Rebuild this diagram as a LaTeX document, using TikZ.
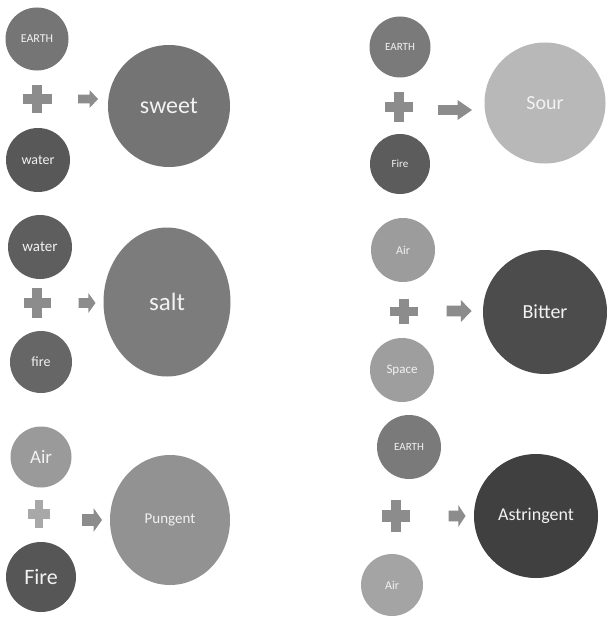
\documentclass[tikz,border=0pt]{standalone}
\usepackage{fontspec}
\setmainfont{Carlito}
\definecolor{txt}{HTML}{F2F2F2}
\definecolor{sym}{HTML}{8C8C8C}
\definecolor{symlight}{HTML}{A8A8A8}
\tikzset{
  ball/.style={circle, inner sep=0pt, text=txt},
  oval/.style={ellipse, inner sep=0pt, text=txt},
  fs/.style={font=\fontsize{#1}{#1}\selectfont},
  plussign/.pic={
    \fill (-1,-0.36) rectangle (1,0.36);
    \fill (-0.36,-1) rectangle (0.36,1);
  },
  blockarrow/.pic={
    \fill (-1,-0.48) -- (0.15,-0.48) -- (0.15,-1) -- (1,0) -- (0.15,1) -- (0.15,0.48) -- (-1,0.48) -- cycle;
  }
}
\usetikzlibrary{shapes.geometric}
\begin{document}
\begin{tikzpicture}[x=1pt,y=-1pt]
\fill[white] (0,0) rectangle (606,618);
\useasboundingbox (0,0) rectangle (606,618);

% ---------- top left ----------
\node[ball, fill={rgb,255:red,117;green,117;blue,117}, minimum size=63pt, fs=12] (earthA) at (37,39) {EARTH};
\pic[fill=sym, xscale=14.5, yscale=14] at (37,99) {plussign};
\pic[fill=sym, xscale=10, yscale=9] at (88,99) {blockarrow};
\node[ball, fill={rgb,255:red,88;green,88;blue,88}, minimum size=64pt, fs=14] (waterA) at (38,160) {water};
\node[ball, fill={rgb,255:red,116;green,116;blue,116}, minimum size=122pt, fs=24] (sweet) at (169,106) {sweet};

% ---------- top right ----------
\node[ball, fill={rgb,255:red,122;green,122;blue,122}, minimum size=61pt, fs=11] (earthB) at (400,47) {EARTH};
\pic[fill=sym, xscale=14, yscale=15] at (399,107) {plussign};
\pic[fill=sym, xscale=17, yscale=10] at (455,110) {blockarrow};
\node[ball, fill={rgb,255:red,92;green,92;blue,92}, minimum size=60pt, fs=11] (fireB) at (400,164) {Fire};
\node[ball, fill={rgb,255:red,184;green,184;blue,184}, minimum size=121pt, fs=20] (sour) at (545,103) {Sour};

% ---------- middle left ----------
\node[ball, fill={rgb,255:red,94;green,94;blue,94}, minimum size=64pt, fs=15] (waterC) at (40,247) {water};
\pic[fill=sym, xscale=13.5, yscale=15] at (37,303) {plussign};
\pic[fill=sym, xscale=8.5, yscale=10] at (87,303) {blockarrow};
\node[ball, fill={rgb,255:red,102;green,102;blue,102}, minimum size=62pt, fs=14] (fireC) at (41,362) {fire};
\node[oval, fill={rgb,255:red,124;green,124;blue,124}, minimum width=127pt, minimum height=149pt, fs=25] (salt) at (167,302) {salt};

% ---------- middle right ----------
\node[ball, fill={rgb,255:red,156;green,156;blue,156}, minimum size=64pt, fs=12] (airD) at (403,250) {Air};
\pic[fill=sym, xscale=14, yscale=12.5] at (404,311) {plussign};
\pic[fill=sym, xscale=12.5, yscale=11] at (459,311) {blockarrow};
\node[ball, fill={rgb,255:red,158;green,158;blue,158}, minimum size=64pt, fs=13] (spaceD) at (402,370) {Space};
\node[ball, fill={rgb,255:red,76;green,76;blue,76}, minimum size=124pt, fs=20] (bitter) at (545,312) {Bitter};

% ---------- bottom left ----------
\node[ball, fill={rgb,255:red,154;green,154;blue,154}, minimum size=61pt, fs=19] (airE) at (41,457) {Air};
\pic[fill=symlight, xscale=11, yscale=14] at (39,514) {plussign};
\pic[fill=sym, xscale=10, yscale=12] at (92,520) {blockarrow};
\node[ball, fill={rgb,255:red,86;green,86;blue,86}, minimum size=70pt, fs=22] (fireE) at (41,577) {Fire};
\node[oval, fill={rgb,255:red,146;green,146;blue,146}, minimum width=120pt, minimum height=130pt, fs=15] (pungent) at (170,520) {Pungent};

% ---------- bottom right ----------
\node[ball, fill={rgb,255:red,122;green,122;blue,122}, minimum size=64pt, fs=11] (earthF) at (409,447) {EARTH};
\pic[fill=sym, xscale=14, yscale=16] at (396,516) {plussign};
\pic[fill=sym, xscale=8.5, yscale=11] at (457,516) {blockarrow};
\node[ball, fill={rgb,255:red,164;green,164;blue,164}, minimum size=62pt, fs=12] (airF) at (392,585) {Air};
\node[ball, fill={rgb,255:red,64;green,64;blue,64}, minimum size=124pt, fs=18] (astringent) at (536,516) {Astringent};
\end{tikzpicture}
\end{document}
